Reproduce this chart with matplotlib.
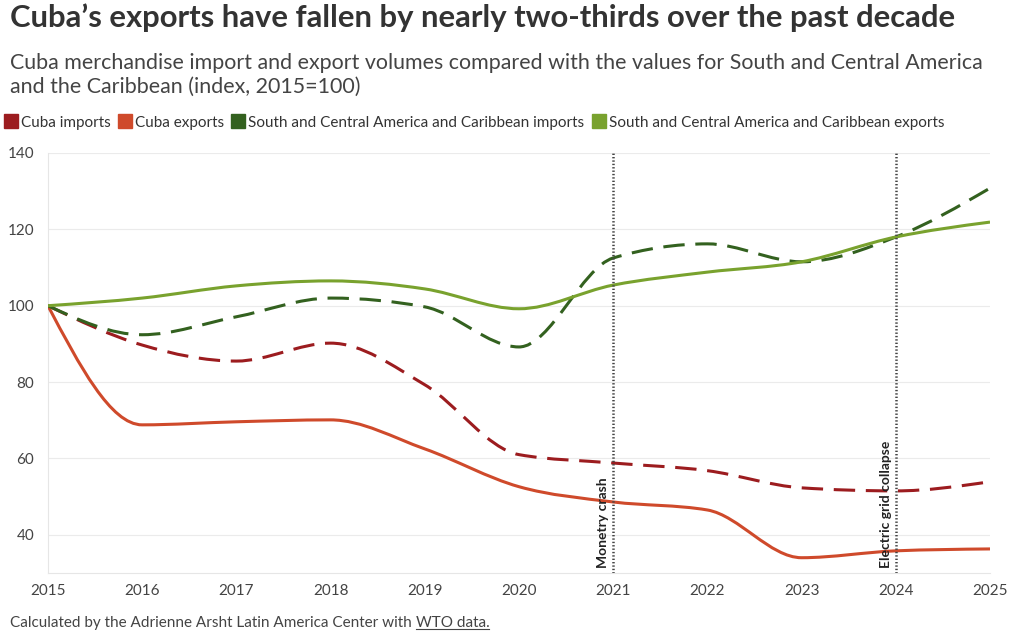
import numpy as np
import matplotlib
matplotlib.use("Agg")
import matplotlib.pyplot as plt
from matplotlib.path import Path
from matplotlib.patches import PathPatch
from matplotlib.lines import Line2D

plt.rcParams['font.family'] = ['Lato', 'DejaVu Sans']

years = [2015, 2016, 2017, 2018, 2019, 2020, 2021, 2022, 2023, 2024, 2025]
cuba_imports = [100, 89.7, 85.5, 90.2, 79.3, 61.0, 58.8, 56.8, 52.3, 51.5, 53.9]
cuba_exports = [100, 68.8, 69.6, 70.1, 62.5, 52.6, 48.6, 46.5, 34.0, 35.8, 36.3]
sca_imports = [100, 92.4, 97.1, 102.0, 99.7, 89.2, 112.5, 116.2, 111.5, 118.0, 130.8]
sca_exports = [100, 102.0, 105.2, 106.5, 104.4, 99.2, 105.4, 108.8, 111.5, 118.0, 121.9]

series_names = ['Cuba imports', 'Cuba exports',
                'South and Central America and Caribbean imports',
                'South and Central America and Caribbean exports']
series_colors = ['#9c1c1f', '#cf4a2b', '#33611f', '#79a22e']
series_dashed = [True, False, True, False]

events = [(2021, 'Monetry crash'), (2024, 'Electric grid collapse')]


def monotone_path(xs, ys):
    # monotone cubic curve (like d3 curveMonotoneX) as bezier segments
    x = np.asarray(xs, float)
    y = np.asarray(ys, float)
    n = len(x)
    h = np.diff(x)
    s = np.diff(y) / h
    t = np.zeros(n)
    for i in range(1, n - 1):
        p = (s[i - 1] * h[i] + s[i] * h[i - 1]) / (h[i - 1] + h[i])
        t[i] = (np.sign(s[i - 1]) + np.sign(s[i])) * min(abs(s[i - 1]), abs(s[i]), 0.5 * abs(p))
    t[0] = (3 * s[0] - t[1]) / 2
    t[-1] = (3 * s[-1] - t[-2]) / 2
    verts = [(x[0], y[0])]
    codes = [Path.MOVETO]
    for i in range(n - 1):
        dx = h[i] / 3
        verts += [(x[i] + dx, y[i] + dx * t[i]),
                  (x[i + 1] - dx, y[i + 1] - dx * t[i + 1]),
                  (x[i + 1], y[i + 1])]
        codes += [Path.CURVE4] * 3
    return Path(verts, codes)


fig = plt.figure(figsize=(10.2, 6.42), dpi=100)
ax = fig.add_axes([0.047, 0.1075, 0.9236, 0.6542])

for vals, col, dashed in zip([cuba_imports, cuba_exports, sca_imports, sca_exports],
                             series_colors, series_dashed):
    patch = PathPatch(monotone_path(years, vals), fill=False, edgecolor=col, lw=2.2,
                      capstyle='butt', zorder=3)
    if dashed:
        patch.set_linestyle((0, (7, 3.5)))
    ax.add_patch(patch)

for yr, label in events:
    ax.axvline(yr, color='#444444', lw=1.8, linestyle=(0, (0.55, 0.8)), zorder=4)
    ax.text(yr - 0.04, 31.2, label, rotation=90, ha='right', va='bottom',
            fontsize=10, color='#222222', fontweight='bold', zorder=5)

ax.set_xlim(2015, 2025)
ax.set_ylim(30, 140)
ax.set_xticks(years)
ax.set_yticks([40, 60, 80, 100, 120, 140])
ax.tick_params(length=0, labelsize=11, colors='#444444')
ax.tick_params(axis='y', pad=10)
ax.tick_params(axis='x', pad=8)
ax.grid(axis='y', color='#ebebeb', lw=0.8)
ax.set_axisbelow(True)
for side in ['top', 'right']:
    ax.spines[side].set_visible(False)
for side in ['left', 'bottom']:
    ax.spines[side].set_color('#e6e6e6')
    ax.spines[side].set_linewidth(0.8)

fig.text(0.0098, 0.958, 'Cuba’s exports have fallen by nearly two-thirds over the past decade',
         fontsize=22.3, fontweight='bold', color='#333333', va='baseline')
fig.text(0.0098, 0.893, 'Cuba merchandise import and export volumes compared with the values for South and Central America',
         fontsize=15.4, color='#444444', va='baseline')
fig.text(0.0098, 0.855, 'and the Caribbean (index, 2015=100)',
         fontsize=15.4, color='#444444', va='baseline')

handles = [Line2D([], [], marker='s', linestyle='none', markersize=10,
                  markerfacecolor=c, markeredgecolor=c) for c in series_colors]
fig.legend(handles, series_names, loc='center left', bbox_to_anchor=(0.0, 0.809),
           ncol=4, frameon=False, fontsize=11, handlelength=0.8, handletextpad=0.25,
           columnspacing=0.55, labelcolor='#333333', borderaxespad=0, borderpad=0.3)

ft = fig.text(0.0098, 0.024, 'Calculated by the Adrienne Arsht Latin America Center with ',
              fontsize=11, color='#444444', va='baseline')
fig.canvas.draw()
bb = ft.get_window_extent().transformed(fig.transFigure.inverted())
lt = fig.text(bb.x1, 0.024, 'WTO data.', fontsize=11, color='#444444', va='baseline')
fig.canvas.draw()
lb = lt.get_window_extent().transformed(fig.transFigure.inverted())
fig.add_artist(Line2D([lb.x0, lb.x1], [0.024 - 0.004, 0.024 - 0.004], color='#444444',
                      lw=0.8, transform=fig.transFigure))

fig.savefig('out.png', dpi=100)
